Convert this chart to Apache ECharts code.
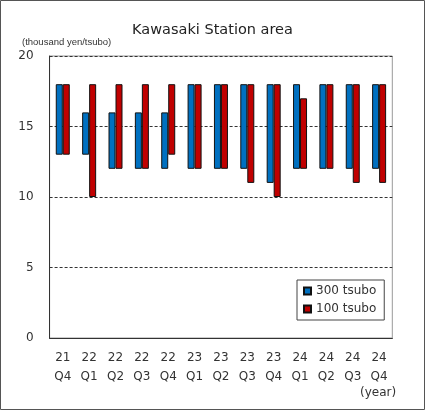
<!DOCTYPE html>
<html>
<head>
<meta charset="utf-8">
<script src="https://cdn.jsdelivr.net/npm/echarts@6/dist/echarts.min.js"></script>
<style>
html, body { margin: 0; padding: 0; background: #fff; }
#chart { width: 425px; height: 410px; }
</style>
</head>
<body>
<div id="chart"></div>
<script>
var quarters = ['21\nQ4', '22\nQ1', '22\nQ2', '22\nQ3', '22\nQ4', '23\nQ1', '23\nQ2',
                '23\nQ3', '23\nQ4', '24\nQ1', '24\nQ2', '24\nQ3', '24\nQ4'];

// thousand yen / tsubo, low and high of each range
var low300  = [13, 13, 12, 12, 12, 12, 12, 12, 11, 12, 12, 12, 12];
var high300 = [18, 16, 16, 16, 16, 18, 18, 18, 18, 18, 18, 18, 18];
var low100  = [13, 10, 12, 12, 13, 12, 12, 11, 10, 12, 12, 11, 11];
var high100 = [18, 18, 18, 18, 18, 18, 18, 18, 18, 17, 18, 18, 18];

var yTicks = [0, 5, 10, 15, 20];

function span(lo, hi) {
    return hi.map(function (v, i) { return v - lo[i]; });
}

var chart = echarts.init(document.getElementById('chart'));

var baseStyle = { color: 'transparent', borderWidth: 0 };

option = {
    animation: false,
    backgroundColor: '#fff',
    textStyle: { fontFamily: 'DejaVu Sans' },
    title: {
        text: 'Kawasaki Station area',
        left: 'center',
        top: 18,
        textStyle: { fontSize: 14.5, fontWeight: 'normal', color: '#222' }
    },
    legend: {
        orient: 'vertical',
        left: 297,
        top: 280,
        data: ['300 tsubo', '100 tsubo'],
        icon: 'rect',
        itemWidth: 7,
        itemHeight: 7,
        itemGap: 4,
        padding: [4, 8, 4, 6],
        borderColor: '#444',
        borderWidth: 1,
        backgroundColor: '#fff',
        textStyle: { fontSize: 12, color: '#333', lineHeight: 14 }
    },
    grid: {
        left: 49.6,
        right: 32.7,
        top: 56,
        bottom: 72,
        show: true,
        borderColor: '#999',
        borderWidth: 1
    },
    xAxis: {
        type: 'category',
        data: quarters,
        axisLine: { lineStyle: { color: '#333' } },
        axisTick: { inside: true, length: 4, lineStyle: { color: '#333' } },
        axisLabel: { fontSize: 12, color: '#333', lineHeight: 19, margin: 10 }
    },
    yAxis: {
        type: 'value',
        min: yTicks[0],
        max: yTicks[yTicks.length - 1],
        interval: 5,
        axisLine: { show: true, lineStyle: { color: '#333' } },
        axisTick: { show: false },
        axisLabel: { fontSize: 12, color: '#333', margin: 16 },
        splitLine: {
            lineStyle: { color: '#333', type: [3, 2], width: 1 }
        }
    },
    graphic: [
        {
            type: 'rect',
            shape: { x: 0.5, y: 0.5, width: 424, height: 409 },
            style: { fill: 'none', stroke: '#555', lineWidth: 1 },
            silent: true
        },
        {
            type: 'text',
            left: 22,
            top: 37,
            style: { text: '(thousand yen/tsubo)', font: '9.5px "Liberation Sans"', fill: '#333' }
        },
        {
            type: 'text',
            left: 360,
            top: 387,
            style: { text: '(year)', font: '12px "DejaVu Sans"', fill: '#333' }
        }
    ],
    series: [
        {
            name: 'base300', type: 'bar', stack: 'a', barWidth: 7, barGap: '0%',
            data: low300, itemStyle: baseStyle, silent: true
        },
        {
            name: '300 tsubo', type: 'bar', stack: 'a', barWidth: 7, barGap: '0%',
            data: span(low300, high300),
            itemStyle: { color: '#0070C0', borderColor: '#111', borderWidth: 1 }
        },
        {
            name: 'base100', type: 'bar', stack: 'b', barWidth: 7, barGap: '0%',
            data: low100, itemStyle: baseStyle, silent: true
        },
        {
            name: '100 tsubo', type: 'bar', stack: 'b', barWidth: 7, barGap: '0%',
            data: span(low100, high100),
            itemStyle: { color: '#C00000', borderColor: '#111', borderWidth: 1 }
        }
    ]
};
chart.setOption(option);
</script>
</body>
</html>
